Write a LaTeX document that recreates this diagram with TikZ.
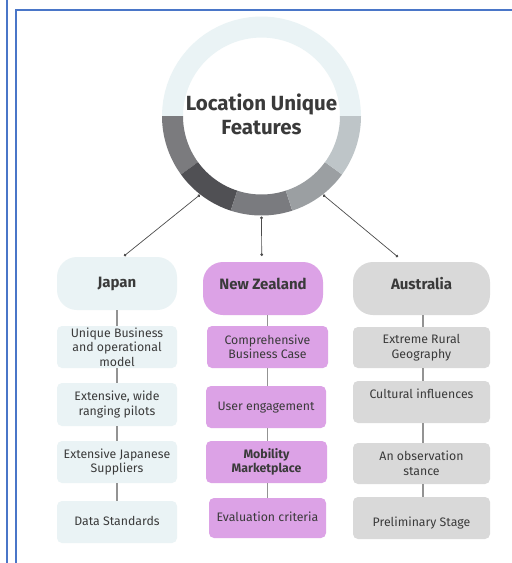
\documentclass[tikz,border=0pt]{standalone}
\usepackage{fontspec}
\setmainfont{Fira Sans}
\usetikzlibrary{arrows.meta}
\definecolor{frameblue}{HTML}{4A76C8}
\definecolor{jpfill}{HTML}{EAF3F5}
\definecolor{nzfill}{HTML}{DCA2E6}
\definecolor{aufill}{HTML}{D9D9D9}
\definecolor{txt}{HTML}{3A3A3A}
\definecolor{segA}{HTML}{7B7B7E}
\definecolor{segB}{HTML}{505054}
\definecolor{segC}{HTML}{7A7B7F}
\definecolor{segD}{HTML}{9B9FA2}
\definecolor{segE}{HTML}{BEC5C8}
\definecolor{segTop}{HTML}{EAF3F5}
\tikzset{
  head/.style={rounded corners=20pt, minimum width=120pt, minimum height=53pt, inner sep=0pt,
    text=txt, font=\fontsize{15}{18}\selectfont\bfseries, text height=10.5pt, text depth=3pt},
  sub/.style={rounded corners=5pt, minimum width=120pt, minimum height=42pt, inner sep=0pt,
    text=txt, font=\fontsize{12.3}{14.5}\selectfont, align=center},
  subline/.style={rounded corners=5pt, minimum width=120pt, minimum height=42pt, inner sep=0pt,
    text=txt, font=\fontsize{12.3}{14.5}\selectfont, text height=9pt, text depth=3pt},
  vline/.style={draw=gray!85, line width=1.1pt},
  spoke/.style={draw=black!70, line width=0.7pt, {Circle[length=2.8pt]}-{Circle[length=2.8pt]}},
}
\begin{document}
\begin{tikzpicture}[x=1pt,y=-1pt]
\useasboundingbox (0,0) rectangle (512,563);
\fill[white] (0,0) rectangle (512,563);
% frames
\draw[frameblue, line width=1.8pt] (7,0) -- (7,563);
\draw[frameblue, line width=1.8pt] (16,563) -- (16,10) -- (512,10);
% ring
\def\cx{261.5}\def\cy{116}\def\ro{99.5}\def\ri{78.5}
\foreach \a/\b/\c in {180/360/segTop, 144/180/segA, 108/144/segB, 72/108/segC, 36/72/segD, 0/36/segE}{
  \fill[\c] plot[domain=\a:\b, samples=40] ({\cx+\ro*cos(\x)},{\cy+\ro*sin(\x)})
    -- plot[domain=\b:\a, samples=40] ({\cx+\ri*cos(\x)},{\cy+\ri*sin(\x)}) -- cycle;
}
\node[text=txt, font=\fontsize{20.5}{24}\selectfont\bfseries, align=center] (title) at (\cx,\cy-2) {Location Unique\\Features};
\coordinate (r1) at ({\cx+100*cos(128)},{\cy+100*sin(128)});
\coordinate (r2) at ({\cx},{\cy+100.5});
\coordinate (r3) at ({\cx+100*cos(52)},{\cy+100*sin(52)});
\coordinate (e1) at (124,256);
\coordinate (e2) at (261.7,256);
\coordinate (e3) at (398,257);
\draw[spoke] (r1) -- (e1);
\draw[spoke] (r2) -- (e2);
\draw[spoke] (r3) -- (e3);
% Japan column
\node[head, fill=jpfill] (J0) at (117,283.5) {Japan};
\node[sub, fill=jpfill] (J1) at (117,347) {Unique Business\\and operational\\model};
\node[sub, fill=jpfill, minimum height=43pt] (J2) at (117,404.5) {Extensive, wide\\ranging pilots};
\node[sub, fill=jpfill] (J3) at (117,462) {Extensive Japanese\\Suppliers};
\node[subline, fill=jpfill] (J4) at (117,522) {Data Standards};
\draw[vline] (J0.south) -- (J1.north);
\draw[vline] (J1.south) -- (J2.north);
\draw[vline] (J2.south) -- (J3.north);
\draw[vline] (J3.south) -- (J4.north);
% New Zealand column
\node[head, fill=nzfill, text depth=8.5pt] (N0) at (263,288.5) {New Zealand};
\node[sub, fill=nzfill, minimum width=121pt] (N1) at (267.5,347) {Comprehensive\\Business Case};
\node[subline, fill=nzfill] (N2) at (266,407) {User engagement};
\node[sub, fill=nzfill, minimum width=121pt, font=\fontsize{12.3}{14.5}\selectfont\bfseries] (N3) at (266.5,462) {Mobility\\Marketplace};
\node[subline, fill=nzfill, minimum width=117pt, minimum height=40pt] (N4) at (267.5,518) {Evaluation criteria};
\draw[vline] (N1.north |- N0.south) -- (N1.north);
\draw[vline] (N1.south) -- (N1.south |- N2.north);
\draw[vline] (N1.south |- N2.south) -- (N1.south |- N3.north);
\draw[vline] (N1.south |- N3.south) -- (N1.south |- N4.north);
% Australia column
\node[head, fill=aufill, minimum width=137pt, text depth=8.5pt] (A0) at (421.5,288.5) {Australia};
\node[sub, fill=aufill, minimum width=137pt, minimum height=41pt] (A1) at (421.5,347.5) {Extreme Rural\\Geography};
\node[subline, fill=aufill, minimum width=137pt, text depth=17pt] (A2) at (421.5,402) {Cultural influences};
\node[sub, fill=aufill, minimum width=137pt, minimum height=41pt] (A3) at (421.5,463.5) {An observation\\stance};
\node[subline, fill=aufill, minimum width=137pt, text height=19pt] (A4) at (421.5,518) {Preliminary Stage};
\draw[vline] ([xshift=1.5pt]A0.south) -- ([xshift=1.5pt]A1.north);
\draw[vline] ([xshift=1.5pt]A1.south) -- ([xshift=1.5pt]A2.north);
\draw[vline] ([xshift=1.5pt]A2.south) -- ([xshift=1.5pt]A3.north);
\draw[vline] ([xshift=1.5pt]A3.south) -- ([xshift=1.5pt]A4.north);
\end{tikzpicture}
\end{document}
